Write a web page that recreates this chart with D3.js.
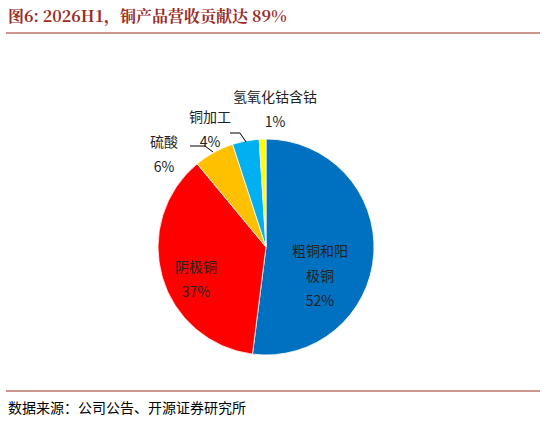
<!DOCTYPE html>
<html><head><meta charset="utf-8">
<script src="https://cdn.jsdelivr.net/npm/d3@7"></script>
<style>body{margin:0;background:#fff}</style>
</head><body>
<svg class="chart" width="546" height="422"></svg>
<script>
const names = ["粗铜和阳极铜", "阴极铜", "硫酸", "铜加工", "氢氧化钴含钴"];
const values = [52, 37, 6, 4, 1];
const colors = ["#0070c0", "#ff0000", "#ffc000", "#00b0f0", "#ffff00"];

const svg = d3.select(".chart");
const font = "'Noto Sans CJK SC', sans-serif";

svg.append("text").attr("x", 8).attr("y", 22)
  .attr("font-family", "'Noto Serif CJK SC','Liberation Serif', serif").attr("font-weight", "bold")
  .attr("font-size", 16).attr("fill", "#9b2c1f").text("图6:  2026H1，铜产品营收贡献达 89%");
svg.append("line").attr("x1", 6).attr("x2", 540).attr("y1", 33).attr("y2", 33).attr("stroke", "#9b2c1f").attr("stroke-width", 1);
svg.append("line").attr("x1", 6).attr("x2", 540).attr("y1", 391).attr("y2", 391).attr("stroke", "#9b2c1f").attr("stroke-width", 1);
svg.append("text").attr("x", 8).attr("y", 413).attr("font-family", font)
  .attr("font-size", 14).attr("fill", "#000").text("数据来源：公司公告、开源证券研究所");

const cx = 266, cy = 247, r = 108;
const pie = d3.pie().sort(null)(values);
const arc = d3.arc().innerRadius(0).outerRadius(r);
const g = svg.append("g").attr("transform", `translate(${cx},${cy})`);
g.selectAll("path").data(pie).join("path")
  .attr("d", arc).attr("fill", (d, i) => colors[i])
  .attr("stroke", "#fff").attr("stroke-width", 0.8);

function label(lines, x, y) {
  const t = svg.append("text").attr("font-family", font).attr("font-size", 14)
    .attr("text-anchor", "middle").attr("fill", "#222");
  lines.forEach((s, i) => t.append("tspan").attr("x", x).attr("y", y + i * 25).text(s));
}
label(["粗铜和阳", "极铜", values[0] + "%"], 320, 256);
label(["阴极铜", values[1] + "%"], 196, 272);
label(["硫酸", values[2] + "%"], 164, 147);
label(["铜加工", values[3] + "%"], 210, 122);
label(["氢氧化钴含钴", values[4] + "%"], 275, 102);

// leader lines
svg.append("path").attr("d", "M190,146 L205,146 L213,152").attr("fill", "none").attr("stroke", "#000");
svg.append("path").attr("d", "M230,133 L240,133 L246,142").attr("fill", "none").attr("stroke", "#000");
</script>
</body></html>
